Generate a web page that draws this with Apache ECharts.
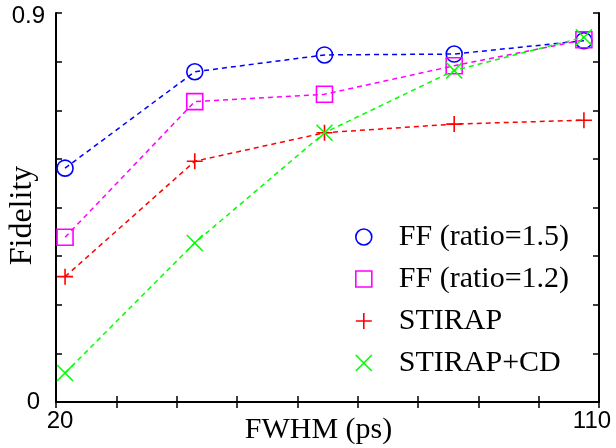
<!DOCTYPE html>
<html>
<head>
<meta charset="utf-8">
<script src="https://cdn.jsdelivr.net/npm/echarts@6/dist/echarts.min.js"></script>
<style>html,body{margin:0;padding:0;background:#fff}#c{width:616px;height:448px}</style>
</head>
<body>
<div id="c"></div>
<script>
var fwhm = [21.5, 43, 64.5, 86, 107.5];
var ff15 = [0.541, 0.764, 0.803, 0.805, 0.836];
var ff12 = [0.381, 0.695, 0.712, 0.778, 0.838];
var stirap = [0.290, 0.557, 0.623, 0.643, 0.652];
var stirapCD = [0.067, 0.368, 0.623, 0.767, 0.844];
var seriesNames = ['FF (ratio=1.5)', 'FF (ratio=1.2)', 'STIRAP', 'STIRAP+CD'];
var xTickLabels = ['20', '110'];
var yTickLabels = ['0', '0.9'];

var colors = ['#0000ff', '#ff00ff', '#ff0000', '#00ff00'];
var symbols = ['circle', 'rect', 'path://M0,5L10,5M5,0L5,10', 'path://M0,0L10,10M10,0L0,10'];
var values = [ff15, ff12, stirap, stirapCD];
var serif = 'Liberation Serif';
var sans = 'Liberation Sans';

function pairs(v){ return fwhm.map(function(x,i){ return [x, v[i]]; }); }

var series = values.map(function(v, i){
  var open = i < 2;
  return {
    name: seriesNames[i], type: 'line', data: pairs(v),
    symbol: symbols[i], symbolSize: 16,
    itemStyle: { color: open ? 'rgba(0,0,0,0)' : colors[i], borderColor: colors[i], borderWidth: 1.6 },
    lineStyle: { color: colors[i], width: 1.5, type: [5, 4] },
    emphasis: { disabled: true }, silent: true, z: 3 + i
  };
});

var axisLine = { show: true, lineStyle: { color: '#000', width: 2 } };
var tick = { show: true, inside: true, length: 6, lineStyle: { color: '#000', width: 1.5 } };

var option = {
  animation: false,
  backgroundColor: '#fff',
  grid: { left: 56, right: 17, top: 13, bottom: 46, containLabel: false, outerBoundsMode: 'none' },
  legend: {
    orient: 'vertical', left: 350, top: 217, itemWidth: 16, itemHeight: 16, itemGap: 12,
    textStyle: { fontFamily: serif, fontSize: 30, color: '#000', lineHeight: 30, padding: [0, 0, 0, 22] },
    data: seriesNames.map(function(n, i){
      return { name: n, icon: symbols[i],
        itemStyle: { color: i < 2 ? 'rgba(0,0,0,0)' : colors[i], borderColor: colors[i], borderWidth: 1.6 } };
    })
  },
  xAxis: [{
    type: 'value', min: 20, max: 110, interval: 10, position: 'bottom',
    axisLine: axisLine, axisTick: tick, splitLine: { show: false },
    name: 'FWHM (ps)', nameLocation: 'middle', nameGap: 13, nameMoveOverlap: false,
    nameTextStyle: { fontFamily: serif, fontSize: 30, color: '#000', padding: [0, 18, 0, 0] },
    axisLabel: {
      margin: 7, fontFamily: sans, fontSize: 24, color: '#000',
      formatter: function(v){
        if (v === 20) return '{a|' + xTickLabels[0] + '}';
        if (v === 110) return '{b|' + xTickLabels[1] + '}';
        return '';
      },
      rich: {
        a: { fontFamily: sans, fontSize: 24, color: '#000', padding: [0, 0, 0, 8] },
        b: { fontFamily: sans, fontSize: 24, color: '#000', padding: [0, 14, 0, 0] }
      }
    }
  }, {
    type: 'value', min: 20, max: 110, interval: 10, position: 'top',
    axisLine: axisLine, axisTick: tick, splitLine: { show: false }, axisLabel: { show: false }
  }],
  yAxis: [{
    type: 'value', min: 0, max: 0.9, interval: 0.1125, position: 'left',
    axisLine: axisLine, axisTick: tick, splitLine: { show: false },
    name: 'Fidelity', nameLocation: 'middle', nameGap: 17, nameMoveOverlap: false,
    nameTextStyle: { fontFamily: serif, fontSize: 32, color: '#000', padding: [0, 16, 0, 0] },
    axisLabel: {
      margin: 11, fontFamily: sans, fontSize: 24, color: '#000',
      formatter: function(v){
        if (Math.abs(v) < 1e-6) return '{z|' + yTickLabels[0] + '}';
        if (Math.abs(v - 0.9) < 1e-6) return '{t|' + yTickLabels[1] + '}';
        return '';
      },
      rich: {
        z: { fontFamily: sans, fontSize: 24, color: '#000', padding: [0, 5, 0, 0] },
        t: { fontFamily: sans, fontSize: 24, color: '#000', padding: [6, 0, 0, 0] }
      }
    }
  }, {
    type: 'value', min: 0, max: 0.9, interval: 0.1125, position: 'right',
    axisLine: axisLine, axisTick: tick, splitLine: { show: false }, axisLabel: { show: false }
  }],
  series: series
};
var chart = echarts.init(document.getElementById('c'), null, { renderer: 'canvas' });
chart.setOption(option);
</script>
</body>
</html>
